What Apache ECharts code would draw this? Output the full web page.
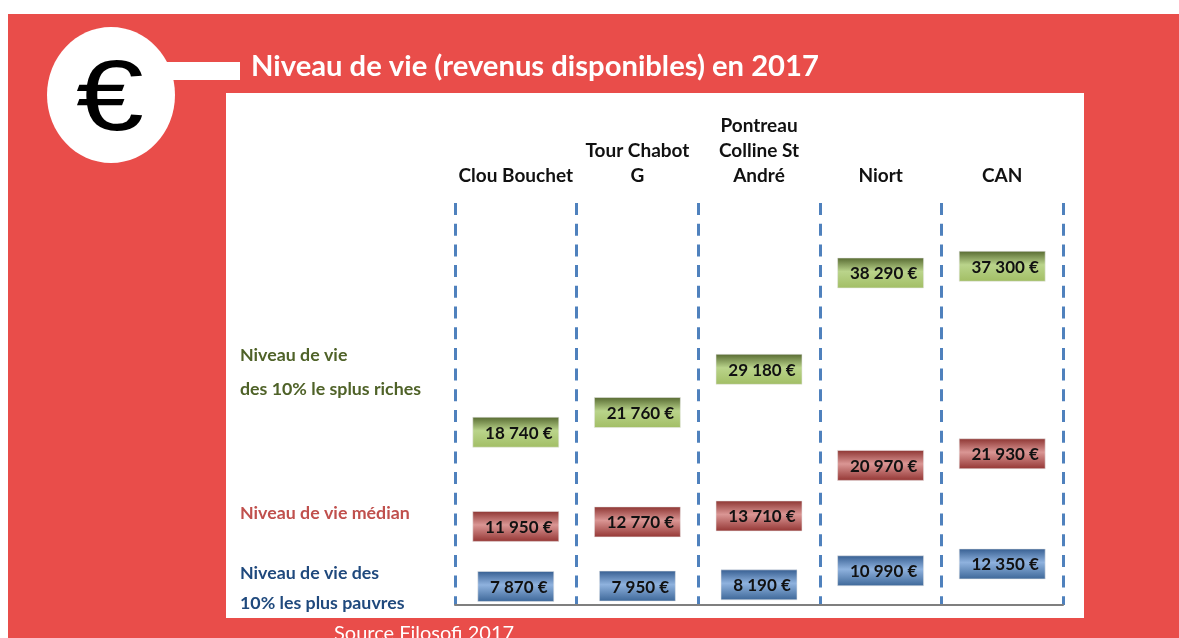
<!DOCTYPE html>
<html><head><meta charset="utf-8">
<style>html,body{margin:0;padding:0;background:#fff}#c{width:1179px;height:638px}</style>
<script src="https://cdn.jsdelivr.net/npm/echarts@6/dist/echarts.min.js"></script>
</head><body><div id="c"></div>
<script>
const categories = ['Clou Bouchet','Tour Chabot\nG','Pontreau\nColline St\nAndré','Niort','CAN'];
const poorest = [7870,7950,8190,10990,12350];
const median = [11950,12770,13710,20970,21930];
const richest = [18740,21760,29180,38290,37300];
const yMax = 80000;
const RED='#E94D4A', FONT='Lato, "Open Sans", sans-serif';
const grad=(a,b,c)=>new echarts.graphic.LinearGradient(0,0,0,1,[{offset:0,color:a},{offset:.45,color:b},{offset:1,color:c}]);
const fmt=v=>String(v).replace(/\B(?=(\d{3})+$)/g,'\u00a0')+'\u00a0€';
const mk=(name,data,fill)=>({
  name,type:'line',stack:'all',data,clip:false,z:5,
  lineStyle:{opacity:0},showAllSymbol:true,symbol:'rect',
  symbolSize:v=>[v>=10000?86:76,30],symbolOffset:[0,21],
  itemStyle:{color:fill,borderColor:'#e8e8e8',borderWidth:.5},
  label:{show:true,position:'inside',offset:[3,1],formatter:p=>fmt(p.value),color:'#111',fontFamily:FONT,fontWeight:'bold',fontSize:17},
  emphasis:{disabled:true}
});
const txt=(x,y,text,fill,size,weight)=>({type:'text',x,y,z:3,style:{text,fill,font:`${weight||'bold'} ${size}px ${FONT}`,textVerticalAlign:'middle'}});
const chart=echarts.init(document.getElementById('c'),null,{renderer:'canvas'});
chart.setOption({
  animation:false,backgroundColor:'#fff',
  title:{text:'Niveau de vie (revenus disponibles) en 2017',left:251,top:50,padding:0,textStyle:{color:'#fff',fontFamily:FONT,fontWeight:'bold',fontSize:29.2,lineHeight:33}},
  grid:{left:455,width:608,top:203,height:402,containLabel:false},
  xAxis:[
    {type:'category',position:'bottom',z:4,data:categories,boundaryGap:true,
     axisLine:{show:true,lineStyle:{color:'#7f7f7f',width:2}},axisTick:{show:false},axisLabel:{show:false},
     splitLine:{show:true,interval:0,lineStyle:{color:'#4F81BD',width:3,type:[12,8.7]}}},
    {type:'category',position:'top',z:4,data:categories,boundaryGap:true,
     axisLine:{show:false},axisTick:{show:false},splitLine:{show:false},
     axisLabel:{show:true,interval:0,margin:15,color:'#111',fontFamily:FONT,fontWeight:'bold',fontSize:19,lineHeight:25,verticalAlign:'bottom',align:'center'}}
  ],
  yAxis:{type:'value',min:0,max:yMax,show:false,splitLine:{show:false}},
  graphic:[
    {type:'rect',z:0,shape:{x:8,y:14,width:1171,height:624},style:{fill:RED}},
    {type:'rect',z:1,shape:{x:226,y:93,width:858,height:525},style:{fill:'#fff'}},
    {type:'rect',z:1,shape:{x:160,y:62,width:80,height:18},style:{fill:'#fff'}},
    {type:'ellipse',z:1,shape:{cx:111,cy:95,rx:64,ry:68},style:{fill:'#fff'}},
    {type:'text',x:110,y:102.5,scaleX:1.22,z:2,style:{text:'€',fill:'#000',stroke:'#fff',lineWidth:2,font:'normal 100px "Liberation Sans", sans-serif',textAlign:'center',textVerticalAlign:'middle'}},
    txt(240,355,'Niveau de vie','#4F6228',17.8),
    txt(240,389,'des 10% le splus riches','#4F6228',17.8),
    txt(240,513,'Niveau de vie médian','#C0504D',17.8),
    txt(240,573,'Niveau de vie des','#1F497D',17.8),
    txt(240,603,'10% les plus pauvres','#1F497D',17.8),
    txt(334,634,'Source Filosofi 2017','#fff',20,'normal')
  ],
  series:[
    mk('Niveau de vie des 10% les plus pauvres',poorest,grad('#375F92','#8FB2DE','#3E6899')),
    mk('Niveau de vie médian',median,grad('#8E3633','#DA9694','#953735')),
    mk('Niveau de vie des 10% les plus riches',richest,grad('#586B32','#BAD48B','#A2BE65'))
  ]
});
</script></body></html>
